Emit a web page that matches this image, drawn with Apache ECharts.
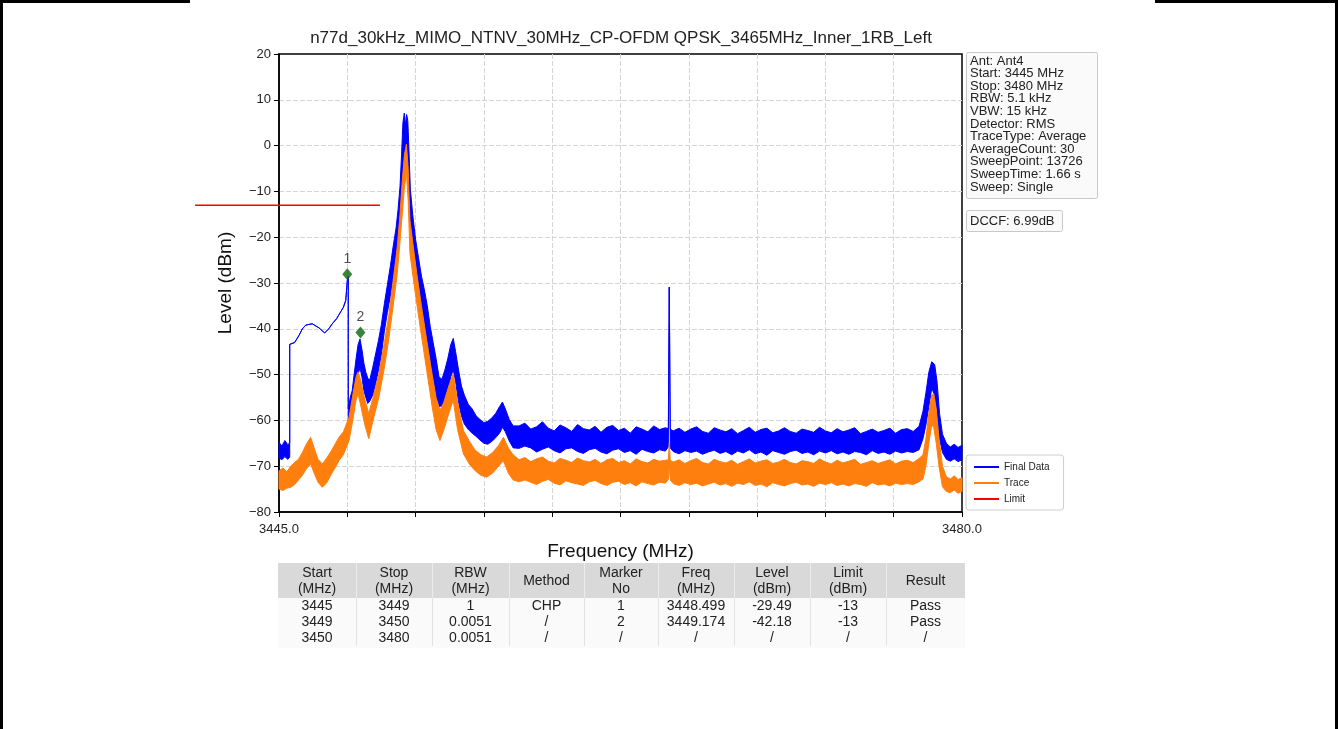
<!DOCTYPE html>
<html><head><meta charset="utf-8">
<script src="https://cdn.jsdelivr.net/npm/echarts@6/dist/echarts.min.js"></script>
<style>html,body{margin:0;padding:0;background:#fff}#c{width:1338px;height:729px}</style>
</head><body><div id="c"></div>
<script>
// ---------------- data ----------------
const chartTitle = 'n77d_30kHz_MIMO_NTNV_30MHz_CP-OFDM QPSK_3465MHz_Inner_1RB_Left';
const xAxisName = 'Frequency (MHz)';
const yAxisName = 'Level (dBm)';
const xTickValues = [3445, 3448.5, 3452, 3455.5, 3459, 3462.5, 3466, 3469.5, 3473, 3476.5, 3480];
const xLabelValues = [3445, 3480];
const yMin = -80, yMax = 20, yStep = 10;

const blueFreq = [3445.00,3445.15,3445.30,3445.45,3445.55,3445.55,3445.80,3446.03,3446.20,3446.37,3446.70,3447.05,3447.34,3447.55,3447.73,3447.95,3448.16,3448.30,3448.42,3448.50,3448.55,
3448.55,3448.65,3448.75,3448.85,3448.95,3449.05,3449.15,3449.25,3449.35,3449.45,3449.55,3449.65,3449.80,3449.95,3450.10,3450.25,3450.40,3450.55,3450.70,3450.85,3451.00,3451.10,3451.20,3451.28,3451.35,3451.42,3451.48,3451.54,3451.60,3451.66,3451.73,3451.85,3452.00,3452.15,3452.30,3452.45,3452.60,3452.75,3452.90,3453.05,3453.20,3453.35,3453.50,3453.65,3453.80,3453.93,3454.05,3454.20,3454.35,3454.50,3454.70,3454.90,3455.10,3455.30,3455.50,3455.70,3455.90,3456.10,3456.30,3456.45,3456.60,3456.80,3457.00,
3457.3,3457.6,3457.9,3458.2,3458.5,3458.8,3459.1,3459.4,3459.7,3460.0,3460.3,3460.6,3460.9,3461.2,3461.5,3461.8,3462.1,3462.4,3462.7,3463.0,3463.3,3463.6,3463.9,3464.2,3464.5,3464.8,3464.95,3465.00,3465.05,
3465.2,3465.5,3465.8,3466.1,3466.4,3466.7,3467.0,3467.3,3467.6,3467.9,3468.2,3468.5,3468.8,3469.1,3469.4,3469.7,3470.0,3470.3,3470.6,3470.9,3471.2,3471.5,3471.8,3472.1,3472.4,3472.7,3473.0,3473.3,3473.6,3473.9,3474.2,3474.5,3474.8,3475.1,3475.4,3475.7,3476.0,3476.3,3476.6,3476.9,3477.2,3477.5,3477.8,
3478.00,3478.15,3478.30,3478.45,3478.60,3478.72,3478.85,3479.00,3479.20,3479.40,3479.60,3479.80,3480.00];
const blueHi = [-64.8,-65.6,-64.4,-65.3,-64.9,-43.4,-43.0,-41.4,-40.0,-39.2,-38.9,-39.8,-40.9,-40.0,-38.9,-37.8,-36.3,-35.3,-33.8,-29.5,-28.6,
-57.5,-55.0,-53.5,-50.0,-46.5,-43.5,-42.2,-44.5,-47.5,-49.5,-50.8,-51.2,-48.5,-45.5,-42.5,-39.0,-34.5,-30.5,-26.5,-22.0,-18.0,-14.0,-9.0,-2.0,5.0,7.1,4.5,6.8,5.5,-1.0,-9.5,-15.0,-20.5,-24.5,-28.5,-31.5,-35.0,-39.5,-43.0,-46.5,-50.5,-51.0,-49.0,-46.5,-43.5,-42.1,-45.0,-49.0,-52.5,-54.5,-56.5,-57.5,-59.0,-59.8,-60.5,-60.2,-59.5,-58.5,-57.0,-56.0,-57.5,-59.8,-61.2,
-61.2,-60.6,-61.9,-61.4,-60.3,-61.7,-62.3,-61.0,-61.6,-62.4,-60.9,-61.8,-62.1,-61.3,-62.6,-61.5,-61.1,-62.2,-61.7,-62.8,-61.4,-61.9,-62.5,-61.2,-62.0,-61.6,-61.8,-30.9,-61.9,
-62.3,-61.7,-62.6,-61.9,-61.4,-62.4,-62.8,-61.6,-62.1,-62.5,-61.8,-62.9,-62.2,-61.5,-62.6,-62.0,-61.7,-62.7,-62.3,-61.6,-62.4,-62.8,-61.9,-62.2,-62.6,-61.5,-62.3,-62.7,-61.8,-62.5,-62.1,-61.6,-62.9,-62.4,-61.9,-62.6,-62.2,-61.7,-62.8,-62.0,-61.8,-62.4,-61.3,
-58.0,-54.0,-49.5,-47.2,-47.8,-51.5,-58.5,-63.0,-65.0,-65.8,-65.2,-65.9,-65.4];
const blueLo = [-68.2,-68.6,-67.9,-68.5,-68.0,-43.4,-43.0,-41.4,-40.0,-39.2,-38.9,-39.8,-40.9,-40.0,-38.9,-37.8,-36.3,-35.3,-33.8,-29.5,-28.6,
-61.5,-60.5,-59.0,-56.5,-53.0,-50.0,-48.5,-50.5,-53.5,-55.0,-56.3,-55.8,-54.5,-52.0,-49.0,-45.5,-40.5,-36.5,-33.0,-28.5,-24.5,-21.0,-16.0,-11.0,-6.0,-1.5,-0.5,-2.0,-4.0,-11.0,-17.5,-23.0,-28.0,-32.0,-37.0,-40.5,-44.5,-48.5,-52.0,-55.0,-57.0,-56.8,-55.5,-53.5,-50.5,-49.0,-51.5,-56.0,-59.0,-60.8,-62.0,-62.8,-63.5,-64.3,-65.0,-65.2,-64.6,-63.8,-62.8,-61.5,-62.5,-64.5,-66.0,
-66.1,-65.6,-66.0,-66.9,-66.3,-65.8,-66.6,-67.1,-66.2,-66.0,-66.8,-67.2,-66.4,-66.1,-66.9,-67.3,-66.5,-66.2,-67.0,-66.6,-67.4,-66.3,-66.8,-67.1,-66.4,-66.7,-65.8,-30.9,-66.0,
-66.8,-67.3,-66.6,-67.0,-66.7,-67.4,-66.9,-66.5,-67.2,-66.8,-67.5,-66.7,-67.1,-66.4,-67.3,-66.9,-67.6,-66.6,-67.0,-67.4,-66.8,-66.5,-67.2,-66.9,-67.5,-66.7,-67.1,-66.6,-67.3,-66.9,-67.4,-66.8,-67.0,-67.5,-66.6,-67.2,-66.9,-67.4,-66.7,-67.1,-66.8,-67.0,-66.4,
-64.0,-61.0,-57.0,-53.0,-54.5,-59.5,-64.0,-67.0,-68.5,-68.9,-68.4,-69.0,-68.6];

const orangeFreq = [3445.00,3445.20,3445.40,3445.60,3445.80,3446.00,3446.20,3446.40,3446.62,3446.80,3447.00,3447.22,3447.45,3447.70,3447.90,3448.07,3448.30,3448.59,3448.80,3448.95,3449.05,3449.20,3449.40,3449.60,3449.85,3450.12,3450.40,3450.64,3450.85,3451.06,3451.20,3451.32,3451.43,3451.53,3451.62,3451.71,3451.88,3452.06,3452.30,3452.57,3452.85,3453.05,3453.25,3453.45,3453.70,3453.93,3454.15,3454.45,3454.75,3455.05,3455.35,3455.64,3455.95,3456.25,3456.50,3456.75,3457.00,
3457.3,3457.6,3457.9,3458.2,3458.5,3458.8,3459.1,3459.4,3459.7,3460.0,3460.3,3460.6,3460.9,3461.2,3461.5,3461.8,3462.1,3462.4,3462.7,3463.0,3463.3,3463.6,3463.9,3464.2,3464.5,3464.8,3464.95,3465.00,3465.05,
3465.2,3465.5,3465.8,3466.1,3466.4,3466.7,3467.0,3467.3,3467.6,3467.9,3468.2,3468.5,3468.8,3469.1,3469.4,3469.7,3470.0,3470.3,3470.6,3470.9,3471.2,3471.5,3471.8,3472.1,3472.4,3472.7,3473.0,3473.3,3473.6,3473.9,3474.2,3474.5,3474.8,3475.1,3475.4,3475.7,3476.0,3476.3,3476.6,3476.9,3477.2,3477.5,3477.8,
3478.00,3478.15,3478.30,3478.45,3478.55,3478.68,3478.82,3479.00,3479.20,3479.40,3479.60,3479.80,3480.00];
const orangeHi = [-71.0,-70.4,-71.2,-70.0,-69.2,-68.5,-67.0,-65.2,-63.7,-66.0,-68.5,-69.5,-68.2,-66.5,-65.0,-63.7,-62.5,-59.3,-54.0,-50.5,-49.4,-51.5,-55.5,-58.5,-54.5,-49.8,-43.0,-36.7,-29.5,-22.1,-15.0,-7.5,-2.0,0.3,-5.0,-16.3,-22.0,-27.9,-35.0,-42.5,-50.0,-55.0,-57.8,-56.0,-52.5,-49.8,-56.0,-62.2,-64.5,-66.5,-67.5,-68.0,-67.0,-65.5,-63.7,-66.0,-67.5,
-68.6,-68.1,-69.0,-68.4,-68.0,-68.9,-69.3,-68.3,-68.7,-69.2,-68.2,-68.8,-69.1,-68.5,-69.4,-68.6,-68.3,-69.2,-68.8,-69.5,-68.4,-69.0,-69.3,-68.5,-68.9,-68.7,-68.6,-65.1,-68.7,
-69.1,-68.6,-69.4,-68.8,-68.3,-69.2,-69.5,-68.5,-69.0,-69.3,-68.7,-69.6,-69.0,-68.4,-69.3,-68.9,-68.6,-69.4,-69.1,-68.5,-69.2,-69.5,-68.8,-69.0,-69.4,-68.4,-69.1,-69.5,-68.7,-69.3,-68.9,-68.5,-69.6,-69.2,-68.8,-69.4,-69.0,-68.6,-69.5,-68.9,-68.7,-69.2,-68.3,
-67.5,-64.0,-58.5,-54.5,-54.2,-57.5,-64.0,-70.0,-72.3,-72.8,-72.1,-72.9,-72.5];
const orangeLo = [-75.0,-75.3,-74.8,-74.6,-74.0,-73.0,-72.0,-70.6,-69.5,-71.5,-73.5,-74.6,-73.6,-71.6,-70.2,-68.8,-67.5,-64.4,-59.5,-55.5,-54.2,-57.0,-61.0,-64.0,-59.5,-54.9,-48.5,-41.8,-35.0,-27.9,-21.0,-14.7,-9.0,-6.0,-12.0,-23.5,-29.0,-34.5,-41.5,-49.1,-57.0,-62.0,-64.4,-62.0,-58.5,-55.6,-62.0,-67.3,-69.5,-71.0,-72.0,-72.4,-71.5,-70.0,-68.8,-71.5,-73.0,
-73.4,-73.0,-73.5,-74.0,-73.3,-72.9,-73.7,-74.1,-73.2,-73.6,-73.9,-74.2,-73.4,-73.1,-73.8,-74.2,-73.5,-73.3,-74.0,-73.6,-74.3,-73.4,-73.8,-74.1,-73.5,-73.7,-72.9,-69.5,-73.0,
-73.8,-74.2,-73.6,-74.0,-73.7,-74.3,-73.9,-73.5,-74.1,-73.8,-74.4,-73.7,-74.0,-73.4,-74.2,-73.9,-74.5,-73.6,-74.0,-74.3,-73.8,-73.5,-74.1,-73.9,-74.4,-73.7,-74.0,-73.6,-74.2,-73.9,-74.3,-73.8,-74.0,-74.4,-73.6,-74.1,-73.9,-74.3,-73.7,-74.0,-73.8,-74.0,-73.4,
-72.8,-70.0,-65.0,-61.0,-61.5,-65.0,-70.0,-74.5,-75.5,-75.8,-75.2,-75.9,-75.5];

const limitFreq = [3440.7, 3450.17];
const limitLevel = [-13, -13];

const markerFreq = [3448.499, 3449.174];
const markerLevel = [-28.1, -40.8];
const markerNo = ['1', '2'];

const seriesNames = ['Final Data', 'Trace', 'Limit'];

const infoLines = ['Ant: Ant4', 'Start: 3445 MHz', 'Stop: 3480 MHz', 'RBW: 5.1 kHz', 'VBW: 15 kHz', 'Detector: RMS',
  'TraceType: Average', 'AverageCount: 30', 'SweepPoint: 13726', 'SweepTime: 1.66 s', 'Sweep: Single'];
const dccfText = 'DCCF: 6.99dB';

const tableHeader = [['Start', '(MHz)'], ['Stop', '(MHz)'], ['RBW', '(MHz)'], ['Method'], ['Marker', 'No'], ['Freq', '(MHz)'], ['Level', '(dBm)'], ['Limit', '(dBm)'], ['Result']];
const tableRow1 = ['3445', '3449', '1', 'CHP', '1', '3448.499', '-29.49', '-13', 'Pass'];
const tableRow2 = ['3449', '3450', '0.0051', '/', '2', '3449.174', '-42.18', '-13', 'Pass'];
const tableRow3 = ['3450', '3480', '0.0051', '/', '/', '/', '/', '/', '/'];

// ---------------- layout / style ----------------
const FONT = "'Liberation Sans', Arial, Helvetica, sans-serif";
const BLUE = '#0000ff', ORANGE = '#ff7f0e', RED = '#ff0000', GREEN = '#0b640b';
const colEdges = [278, 356, 432, 509, 584, 658, 734, 810, 886, 965];

function bandSeries(name, freq, hi, lo, color, z) {
  return {
    type: 'custom', name: name, coordinateSystem: 'cartesian2d', silent: true, z: z,
    itemStyle: { color: color },
    encode: { x: 0, y: [1, 2] },
    data: freq.map((f, i) => [f, hi[i], lo[i]]),
    renderItem: function (params, api) {
      if (params.dataIndex !== 0) return null;
      const pts = [];
      for (let i = 0; i < freq.length; i++) pts.push(api.coord([freq[i], hi[i]]));
      for (let i = freq.length - 1; i >= 0; i--) pts.push(api.coord([freq[i], lo[i]]));
      return { type: 'polygon', shape: { points: pts }, style: { fill: color, stroke: color, lineWidth: 1, lineJoin: 'round' } };
    }
  };
}

const graphics = [];
// page frame
graphics.push({ type: 'rect', shape: { x: 0, y: 0, width: 3, height: 729 }, style: { fill: '#000' } });
graphics.push({ type: 'rect', shape: { x: 1335, y: 0, width: 3, height: 729 }, style: { fill: '#000' } });
graphics.push({ type: 'rect', shape: { x: 0, y: 0, width: 190, height: 3 }, style: { fill: '#000' } });
graphics.push({ type: 'rect', shape: { x: 1155, y: 0, width: 183, height: 3 }, style: { fill: '#000' } });
// title
graphics.push({ type: 'text', x: 621, y: 38, style: { text: chartTitle, font: '17px ' + FONT, fill: '#222', align: 'center', verticalAlign: 'middle' } });
// info box
graphics.push({ type: 'rect', shape: { x: 966.5, y: 52.5, width: 131, height: 146, r: 2 }, style: { fill: '#fafafa', stroke: '#c8c8c8', lineWidth: 1 } });
infoLines.forEach((t, i) => {
  graphics.push({ type: 'text', x: 970, y: 61 + i * 12.6, style: { text: t, font: '13px ' + FONT, fill: '#222', verticalAlign: 'middle' } });
});
graphics.push({ type: 'rect', shape: { x: 966.5, y: 210.5, width: 96, height: 21, r: 2 }, style: { fill: '#fafafa', stroke: '#c8c8c8', lineWidth: 1 } });
graphics.push({ type: 'text', x: 970, y: 221, style: { text: dccfText, font: '13px ' + FONT, fill: '#222', verticalAlign: 'middle' } });
// table
const tableRows = [tableRow1, tableRow2, tableRow3];
graphics.push({ type: 'rect', shape: { x: 278, y: 598, width: 687, height: 50 }, style: { fill: '#fafafa' } });
graphics.push({ type: 'rect', shape: { x: 278, y: 563, width: 687, height: 35 }, style: { fill: '#d9d9d9' } });
for (let c = 1; c < colEdges.length - 1; c++) {
  graphics.push({ type: 'line', shape: { x1: colEdges[c] + 0.5, y1: 563, x2: colEdges[c] + 0.5, y2: 598 }, style: { stroke: '#ececec', lineWidth: 1 } });
  graphics.push({ type: 'line', shape: { x1: colEdges[c] + 0.5, y1: 598, x2: colEdges[c] + 0.5, y2: 646 }, style: { stroke: '#e2e2e2', lineWidth: 1 } });
}
tableHeader.forEach((h, c) => {
  const cx = (colEdges[c] + colEdges[c + 1]) / 2;
  if (h.length === 2) {
    graphics.push({ type: 'text', x: cx, y: 573, style: { text: h[0], font: '14px ' + FONT, fill: '#222', align: 'center', verticalAlign: 'middle' } });
    graphics.push({ type: 'text', x: cx, y: 589, style: { text: h[1], font: '14px ' + FONT, fill: '#222', align: 'center', verticalAlign: 'middle' } });
  } else {
    graphics.push({ type: 'text', x: cx, y: 581, style: { text: h[0], font: '14px ' + FONT, fill: '#222', align: 'center', verticalAlign: 'middle' } });
  }
});
tableRows.forEach((row, r) => {
  row.forEach((v, c) => {
    const cx = (colEdges[c] + colEdges[c + 1]) / 2;
    graphics.push({ type: 'text', x: cx, y: 606 + r * 16, style: { text: v, font: '14px ' + FONT, fill: '#222', align: 'center', verticalAlign: 'middle' } });
  });
});

const option = {
  animation: false,
  backgroundColor: '#ffffff',
  textStyle: { fontFamily: FONT },
  grid: { left: 279, right: 376, top: 54, bottom: 217, show: true, borderColor: '#000', borderWidth: 1.5, backgroundColor: '#fff' },
  legend: {
    orient: 'vertical', left: 966, top: 455,
    data: seriesNames.map(n => ({ name: n, icon: 'rect' })),
    itemWidth: 25, itemHeight: 2, itemGap: 6,
    padding: [7, 14, 6, 8], backgroundColor: '#fff', borderColor: '#cccccc', borderWidth: 1, borderRadius: 3,
    textStyle: { fontSize: 10, color: '#222', fontFamily: FONT }
  },
  xAxis: {
    type: 'value', min: 3445, max: 3480,
    name: xAxisName, nameLocation: 'middle', nameGap: 30,
    nameTextStyle: { fontSize: 19, color: '#111', fontFamily: FONT },
    axisLine: { onZero: false, lineStyle: { color: '#000', width: 1.5 } },
    axisTick: { show: true, length: 5, customValues: xTickValues, lineStyle: { color: '#000' } },
    axisLabel: { customValues: xLabelValues, fontSize: 13, color: '#222', margin: 11, formatter: v => v.toFixed(1) },
    splitLine: { show: true, showMinLine: false, showMaxLine: false, lineStyle: { color: '#d4d4d4', type: [5, 2], width: 1 } }
  },
  yAxis: {
    type: 'value', min: yMin, max: yMax, interval: yStep,
    name: yAxisName, nameLocation: 'middle', nameGap: 44, nameRotate: 90,
    nameTextStyle: { fontSize: 19, color: '#111', fontFamily: FONT },
    axisLine: { show: true, onZero: false, lineStyle: { color: '#000', width: 1.5 } },
    axisTick: { show: true, length: 5, lineStyle: { color: '#000' } },
    axisLabel: { fontSize: 13, color: '#222', margin: 8, formatter: v => String(v).replace('-', '\u2212') },
    splitLine: { show: true, showMinLine: false, showMaxLine: false, lineStyle: { color: '#d4d4d4', type: [5, 2], width: 1 } }
  },
  series: [
    bandSeries(seriesNames[0], blueFreq, blueHi, blueLo, BLUE, 3),
    bandSeries(seriesNames[1], orangeFreq, orangeHi, orangeLo, ORANGE, 4),
    {
      type: 'custom', name: seriesNames[2], coordinateSystem: 'cartesian2d', z: 5, clip: false, silent: true,
      itemStyle: { color: RED },
      encode: { x: 0, y: 1 },
      data: limitFreq.map((f, i) => [f, limitLevel[i]]),
      renderItem: function (params, api) {
        if (params.dataIndex !== 0) return null;
        const p0 = api.coord([limitFreq[0], limitLevel[0]]);
        const p1 = api.coord([limitFreq[1], limitLevel[1]]);
        return { type: 'line', shape: { x1: p0[0], y1: p0[1], x2: p1[0], y2: p1[1] }, style: { stroke: RED, lineWidth: 1.5 } };
      }
    },
    {
      type: 'scatter', name: 'Markers', z: 6, symbol: 'diamond', symbolSize: [10, 12],
      itemStyle: { color: GREEN },
      label: { show: true, position: 'top', distance: 2, fontSize: 14, color: '#222', formatter: p => markerNo[p.dataIndex] },
      data: markerFreq.map((f, i) => [f, markerLevel[i]])
    }
  ],
  graphic: graphics
};

const chart = echarts.init(document.getElementById('c'), null, { renderer: 'canvas' });
chart.setOption(option);
</script>
</body></html>
